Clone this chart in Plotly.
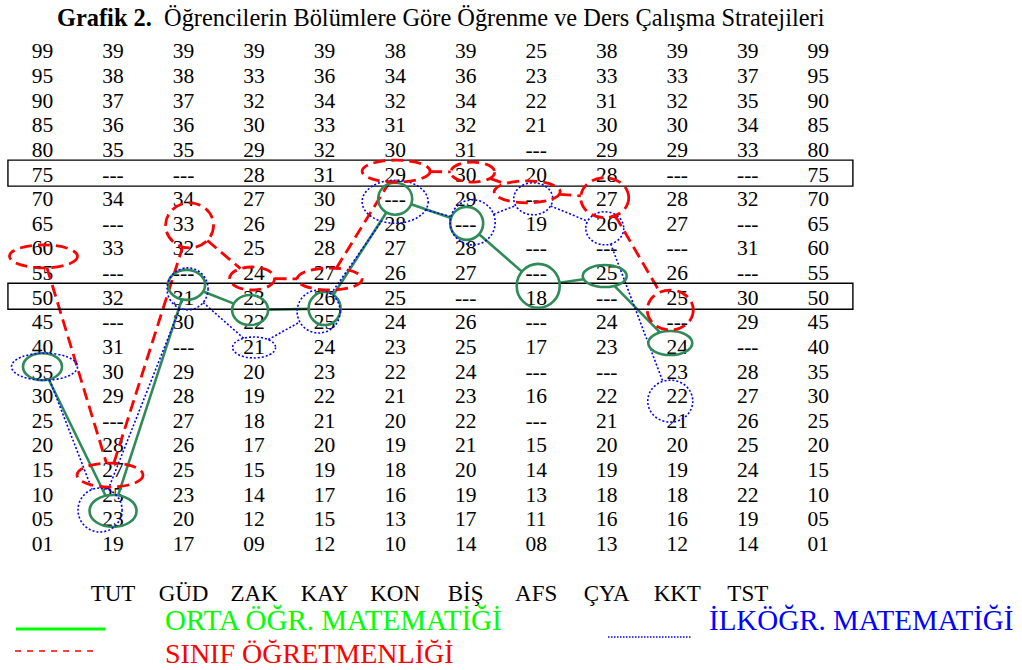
import numpy as np
import plotly.graph_objects as go

# ---------------- data ----------------
subscales = ["TUT", "GÜD", "ZAK", "KAY", "KON", "BİŞ", "AFS", "ÇYA", "KKT", "TST"]
percentile_rows = ["99", "95", "90", "85", "80", "75", "70", "65", "60", "55", "50",
                   "45", "40", "35", "30", "25", "20", "15", "10", "05", "01"]
D = "---"
tut = ["39", "38", "37", "36", "35", D, "34", D, "33", D, "32", D, "31", "30", "29", D, "28", "27", "25", "23", "19"]
gud = ["39", "38", "37", "36", "35", D, "34", "33", "32", D, "31", "30", D, "29", "28", "27", "26", "25", "23", "20", "17"]
zak = ["39", "33", "32", "30", "29", "28", "27", "26", "25", "24", "23", "22", "21", "20", "19", "18", "17", "15", "14", "12", "09"]
kay = ["39", "36", "34", "33", "32", "31", "30", "29", "28", "27", "26", "25", "24", "23", "22", "21", "20", "19", "17", "15", "12"]
kon = ["38", "34", "32", "31", "30", "29", D, "28", "27", "26", "25", "24", "23", "22", "21", "20", "19", "18", "16", "13", "10"]
bis = ["39", "36", "34", "32", "31", "30", "29", D, "28", "27", D, "26", "25", "24", "23", "22", "21", "20", "19", "17", "14"]
afs = ["25", "23", "22", "21", D, "20", D, "19", D, D, "18", D, "17", D, "16", D, "15", "14", "13", "11", "08"]
cya = ["38", "33", "31", "30", "29", "28", "27", "26", D, "25", D, "24", "23", D, "22", "21", "20", "19", "18", "16", "13"]
kkt = ["39", "33", "32", "30", "29", D, "28", "27", D, "26", "25", D, "24", "23", "22", "21", "20", "19", "18", "16", "12"]
tst = ["39", "37", "35", "34", "33", D, "32", D, "31", D, "30", "29", D, "28", "27", "26", "25", "24", "22", "19", "14"]
boxed_rows = ["75", "50"]

# profile levels (percentile scale), drawn from the first column on
orta_ogr_mat = [35.7, 6.4, 52.3, 47.2, 47.5, 69.8, 64.8, 52.1, 54.1, 40.5]
ilkogr_mat = [35.7, 6.6, 51.5, 39.6, 46.9, 69.2, 65.0, 69.8, 63.8, 28.7]
sinif_ogrt = [58.1, 13.7, 64.4, 53.6, 53.5, 75.4, 75.2, 71.2, 70.0, 47.2]

legend_names = ["ORTA ÖĞR. MATEMATİĞİ", "İLKÖĞR. MATEMATİĞİ", "SINIF ÖĞRETMENLİĞİ"]
title_bold = "Grafik 2."
title_text = "Öğrencilerin Bölümlere Göre Öğrenme ve Ders Çalışma Stratejileri"

# ---------------- geometry / style ----------------
W, H = 1022, 670
X0PX, DXPX = 42.5, 70.53      # px of first column, column pitch
Y0PX, DYPX = 50.0, 4.925      # px of row "99", px per percentile unit
XR = [-X0PX / DXPX, (W - X0PX) / DXPX]
YR = [100 - (H - Y0PX) / DYPX, 100 + Y0PX / DYPX]
FONT = "Liberation Serif"
TEXT_DY = -3 / DYPX           # small correction of text baseline

row_y = [100 - 5 * i for i in range(len(percentile_rows))]
columns = [percentile_rows, tut, gud, zak, kay, kon, bis, afs, cya, kkt, tst, percentile_rows]

styles = {
    "orta": dict(color="#2e8b57", width=2.6, dash="solid",
                 rx=[19.5, 23.5, 18.5, 18, 16, 17, 16.5, 21.5, 22, 22],
                 ry=[13.5, 16, 15, 15, 16.5, 16, 16.5, 22, 11, 12],
                 dx=[0, 0, 3, -4, 0, 0, 1, 2, -2, -7]),
    "ilk": dict(color="#0000ff", width=1.6, dash="2px,2px",
                rx=[33, 22, 20.5, 21.5, 21.5, 33, 22.5, 19.5, 19, 22.5],
                ry=[13.5, 22, 21, 10.5, 21.5, 21.5, 22.5, 16, 16.5, 21],
                dx=[2, -13, 4, 0, -6, 0, 7, -3, -2, -7]),
    "sinif": dict(color="#ff0000", width=2.8, dash="12px,6px",
                  rx=[34, 33, 24, 22.5, 32.5, 34, 22, 33, 24, 23],
                  ry=[11.5, 12, 22.5, 11.5, 11, 11, 10, 11, 20, 20],
                  dx=[1, -3, 6, -2, 5, 1, 7, -9, -2, -7]),
}
profiles = {"orta": orta_ogr_mat, "ilk": ilkogr_mat, "sinif": sinif_ogrt}

fig = go.Figure()

# table text
tx, ty, tt = [], [], []
for c, col in enumerate(columns):
    for r, v in enumerate(col):
        tx.append(c)
        ty.append(row_y[r] + TEXT_DY)
        tt.append(v)
fig.add_trace(go.Scatter(x=tx, y=ty, text=tt, mode="text", textposition="middle center",
                         textfont=dict(family=FONT, size=21.5, color="black"),
                         hoverinfo="skip", showlegend=False))

# subscale labels under the table
lab_y = 100 - (592 - Y0PX) / DYPX + TEXT_DY
fig.add_trace(go.Scatter(x=list(range(1, len(subscales) + 1)), y=[lab_y] * len(subscales),
                         text=subscales, mode="text", textposition="middle center",
                         textfont=dict(family=FONT, size=23, color="black"),
                         hoverinfo="skip", showlegend=False))

shapes = []
# boxed rows
for lab in boxed_rows:
    yc = row_y[percentile_rows.index(lab)]
    hh = 13 / DYPX
    shapes.append(dict(type="rect", xref="x", yref="y", x0=-0.49, x1=len(columns) - 1 + 0.49,
                       y0=yc - hh, y1=yc + hh, line=dict(color="black", width=1.4)))

# profiles: ellipses around each level, joined by segments between ellipse edges
for key, vals in profiles.items():
    st = styles[key]
    xs = [i + st["dx"][i] / DXPX for i in range(len(vals))]
    ys = vals
    rxs = [v / DXPX for v in st["rx"]]
    rys = [v / DYPX for v in st["ry"]]
    lx, ly = [], []
    for k in range(len(vals) - 1):
        dxp = (xs[k + 1] - xs[k]) * DXPX
        dyp = (ys[k + 1] - ys[k]) * DYPX
        ta = 1 / np.hypot(dxp / st["rx"][k], dyp / st["ry"][k])
        tb = 1 - 1 / np.hypot(dxp / st["rx"][k + 1], dyp / st["ry"][k + 1])
        if tb <= ta:
            continue
        for t in (ta, tb):
            lx.append(xs[k] + t * (xs[k + 1] - xs[k]))
            ly.append(ys[k] + t * (ys[k + 1] - ys[k]))
        lx.append(None)
        ly.append(None)
    fig.add_trace(go.Scatter(x=lx, y=ly, mode="lines",
                             line=dict(color=st["color"], width=st["width"], dash=st["dash"]),
                             hoverinfo="skip", showlegend=False))
    for i in range(len(vals)):
        shapes.append(dict(type="circle", xref="x", yref="y",
                           x0=xs[i] - rxs[i], x1=xs[i] + rxs[i],
                           y0=ys[i] - rys[i], y1=ys[i] + rys[i],
                           line=dict(color=st["color"], width=st["width"], dash=st["dash"])))

# legend (drawn by hand like the original)
def px(x):
    return x / W

def py(y):
    return 1 - y / H

leg = [
    (legend_names[0], "#00ff00", 16, 105, 629, 3, "solid", 163, 620, 29),
    (legend_names[1], "#0000ff", 608, 692, 637, 1.5, "1.5px,1.5px", 707, 620, 29),
    (legend_names[2], "#ff0000", 15, 98, 651, 1.5, "6px,6px", 163, 653, 28),
]
annotations = []
for name, colr, x0, x1, yl, wdt, dsh, xt, yt, fs in leg:
    shapes.append(dict(type="line", xref="paper", yref="paper", x0=px(x0), x1=px(x1),
                       y0=py(yl), y1=py(yl), line=dict(color=colr, width=wdt, dash=dsh)))
    annotations.append(dict(xref="paper", yref="paper", x=px(xt), y=py(yt), xanchor="left",
                            yanchor="middle", showarrow=False, text=name,
                            font=dict(family=FONT, size=fs, color=colr)))

annotations.append(dict(xref="paper", yref="paper", x=px(55), y=py(18), xanchor="left",
                        yanchor="middle", showarrow=False,
                        text="<b>" + title_bold + "</b>\u00a0\u00a0" + title_text,
                        font=dict(family=FONT, size=24.4, color="black")))

fig.update_layout(
    width=W, height=H, margin=dict(l=0, r=0, t=0, b=0),
    paper_bgcolor="white", plot_bgcolor="white",
    xaxis=dict(range=XR, visible=False, fixedrange=True),
    yaxis=dict(range=YR, visible=False, fixedrange=True),
    shapes=shapes, annotations=annotations, showlegend=False,
)
fig.write_html("out.html", post_script="document.body.style.margin='0';",
               config={"displayModeBar": False})
